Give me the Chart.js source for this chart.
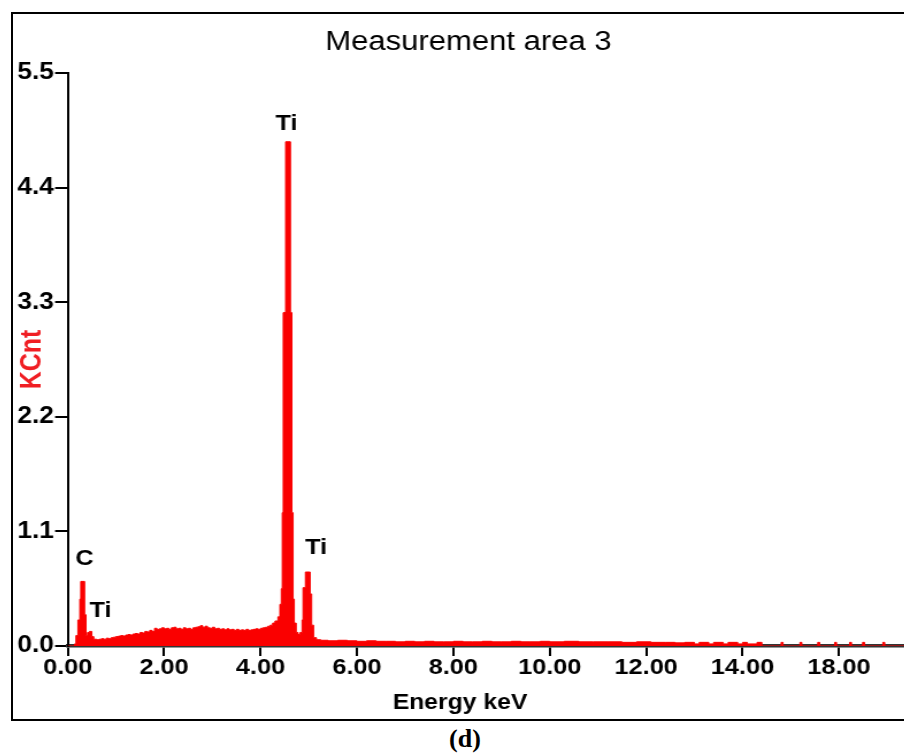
<!DOCTYPE html>
<html><head><meta charset="utf-8">
<script src="https://cdn.jsdelivr.net/npm/chart.js@4.4.1/dist/chart.umd.min.js"></script>
<style>
html,body{margin:0;padding:0;background:#fff;width:904px;height:754px;overflow:hidden;}
#frame{position:absolute;left:11px;top:12px;width:1000px;height:705px;border:2px solid #000;}
#wrap{position:absolute;left:13px;top:14px;width:792px;height:705px;transform:scaleX(1.15);transform-origin:0 0;}
#cap{position:absolute;left:0;top:726px;width:930px;text-align:center;font:bold 26px/26px "Liberation Serif","Times New Roman",serif;color:#000;}
</style></head><body>
<div id="frame"></div>
<div id="wrap"><canvas id="c" width="792" height="705"></canvas></div>
<div id="cap">(d)</div>
<script>
// Energy (keV) of each bin's left edge and counts (KCnt)
const energyKeV = [
 0.00,0.14,0.17,0.21,0.25,0.27,0.35,0.38,0.41,0.45,0.50,0.54,0.60,0.65,0.70,0.75,0.80,0.85,0.90,0.95,
 1.00,1.05,1.10,1.15,1.20,1.25,1.30,1.35,1.40,1.45,1.50,1.55,1.60,1.65,1.70,1.75,1.80,1.85,1.90,1.95,
 2.00,2.05,2.10,2.15,2.20,2.25,2.30,2.35,2.40,2.45,2.50,2.55,2.60,2.65,2.70,2.75,2.80,2.85,2.90,2.95,
 3.00,3.05,3.10,3.15,3.20,3.25,3.30,3.35,3.40,3.45,3.50,3.55,3.60,3.65,3.70,3.75,3.80,3.85,3.90,3.95,
 4.00,4.05,4.10,4.15,4.20,4.25,4.30,4.36,4.40,4.43,4.45,4.47,4.52,4.62,4.65,4.675,4.70,4.74,4.78,4.82,
 4.86,4.88,4.93,5.03,5.06,5.10,5.16,5.25,5.40,5.60,5.80,6.00,6.20,6.40,6.60,6.80,7.00,7.20,7.40,7.60,
 7.80,8.00,8.20,8.40,8.60,8.80,9.00,9.20,9.40,9.60,9.80,10.00,10.30,10.60,10.90,11.20,11.50,11.80,12.10,12.40,
 12.60,12.80,13.00,13.10,13.30,13.40,13.60,13.70,13.90,14.00,14.10,14.30,14.40,14.80,14.84,15.19,15.23,15.56,15.60,15.91,
 15.95,16.22,16.26,16.49,16.53,16.91,16.95,17.76
];
const countsKCnt = [
 0.00,0.02,0.10,0.25,0.45,0.62,0.30,0.10,0.13,0.14,0.09,0.065,0.06,0.065,0.07,0.065,0.075,0.07,0.08,0.085,
 0.09,0.095,0.10,0.095,0.105,0.11,0.105,0.115,0.12,0.115,0.13,0.125,0.14,0.135,0.15,0.14,0.17,0.16,0.165,0.175,
 0.165,0.17,0.16,0.175,0.18,0.165,0.17,0.16,0.175,0.165,0.17,0.16,0.175,0.18,0.185,0.195,0.18,0.19,0.175,0.17,
 0.18,0.165,0.17,0.16,0.165,0.155,0.165,0.155,0.16,0.15,0.16,0.15,0.155,0.15,0.16,0.15,0.155,0.16,0.165,0.16,
 0.17,0.175,0.18,0.19,0.20,0.22,0.24,0.28,0.40,0.55,1.28,3.20,4.84,3.20,1.28,0.45,0.22,0.13,0.11,0.13,
 0.25,0.56,0.71,0.50,0.20,0.08,0.06,0.055,0.05,0.055,0.05,0.045,0.05,0.045,0.045,0.04,0.045,0.04,0.045,0.04,
 0.04,0.045,0.04,0.04,0.045,0.04,0.04,0.045,0.04,0.04,0.045,0.04,0.045,0.04,0.04,0.04,0.035,0.04,0.035,0.035,
 0.03,0.035,0.02,0.035,0.02,0.035,0.02,0.035,0.02,0.035,0.02,0.035,0.0,0.035,0.0,0.035,0.0,0.035,0.0,0.035,
 0.0,0.035,0.0,0.035,0.0,0.035,0.0,0.0
];
const xTickValues = [0,2,4,6,8,10,12,14,16];
const xTickLabels = ["0.00","2.00","4.00","6.00","8.00","10.00","12.00","14.00","18.00"];
const yTickValues = [0,1.1,2.2,3.3,4.4,5.5];
const yTickLabels = ["0.0","1.1","2.2","3.3","4.4","5.5"];
const peakNames = ["C","Ti","Ti","Ti"];
const peakX = [0.35,0.68,4.54,5.15];
const peakY = [0.835,0.336,5.01,0.94];
const xAxisTitle = "Energy keV";

const FAM = "'Liberation Sans', Arial, Helvetica, sans-serif";

const peakLabelPlugin = {
  id: 'peakLabels',
  afterDatasetsDraw(chart) {
    const {ctx, scales: {x, y}} = chart;
    ctx.save();
    ctx.font = "bold 22px " + FAM;
    ctx.fillStyle = '#000';
    ctx.textAlign = 'center';
    ctx.textBaseline = 'middle';
    peakNames.forEach((t, i) => ctx.fillText(t, x.getPixelForValue(peakX[i]), y.getPixelForValue(peakY[i])));
    ctx.restore();
  },
  afterDraw(chart) {
    const ctx = chart.ctx;
    ctx.save();
    ctx.font = "bold 21.5px " + FAM;
    ctx.fillStyle = '#000';
    ctx.textAlign = 'center';
    ctx.textBaseline = 'middle';
    ctx.fillText(xAxisTitle, 388.7, 689.5);
    ctx.restore();
  }
};

new Chart(document.getElementById('c'), {
  type: 'line',
  data: {
    datasets: [{
      data: energyKeV.map((e, i) => ({x: e, y: countsKCnt[i]})),
      stepped: true,
      fill: 'origin',
      backgroundColor: 'rgb(250,0,0)',
      borderColor: 'rgb(250,0,0)',
      borderWidth: 1,
      pointRadius: 0,
      tension: 0
    }]
  },
  options: {
    responsive: false,
    maintainAspectRatio: false,
    devicePixelRatio: 1,
    animation: false,
    events: [],
    layout: {padding: 0},
    plugins: {
      legend: {display: false},
      tooltip: {enabled: false},
      title: {
        display: true, text: 'Measurement area 3', color: '#000',
        font: {family: FAM, size: 27, weight: 'normal', lineHeight: 1.2},
        padding: {top: 12.3, bottom: 14.3}
      }
    },
    scales: {
      x: {
        type: 'linear', min: 0, max: 17.76, z: 1,
        afterBuildTicks: s => { s.ticks = xTickValues.map(v => ({value: v})); },
        afterFit: s => { s.height = 73; },
        ticks: {
          autoSkip: false, maxRotation: 0, minRotation: 0, color: '#000', padding: 0.5,
          font: {family: FAM, size: 22, weight: 'bold', lineHeight: 1},
          callback: (v, i) => xTickLabels[i]
        },
        grid: {display: true, drawOnChartArea: false, drawTicks: true, tickLength: 10, color: '#000', lineWidth: 2},
        border: {display: true, color: '#333', width: 3.5},
        title: {display: false}
      },
      y: {
        type: 'linear', min: 0, max: 5.5,
        afterBuildTicks: s => { s.ticks = yTickValues.map(v => ({value: v})); },
        afterFit: s => { s.width = 47.6; },
        ticks: {
          color: '#000', padding: 1,
          font: {family: FAM, size: 23, weight: 'bold', lineHeight: 1.2},
          callback: (v, i) => yTickLabels[i]
        },
        grid: {display: true, drawOnChartArea: false, drawTicks: true, tickLength: 11, color: '#000', lineWidth: 2},
        border: {display: true, color: '#000', width: 2},
        title: {
          display: true, text: 'KCnt', color: '#f01e23',
          font: {family: FAM, size: 25, weight: 'bold', lineHeight: 1.2},
          padding: {top: 2.4, bottom: 0}
        }
      }
    }
  },
  plugins: [peakLabelPlugin]
});
</script>
</body></html>
